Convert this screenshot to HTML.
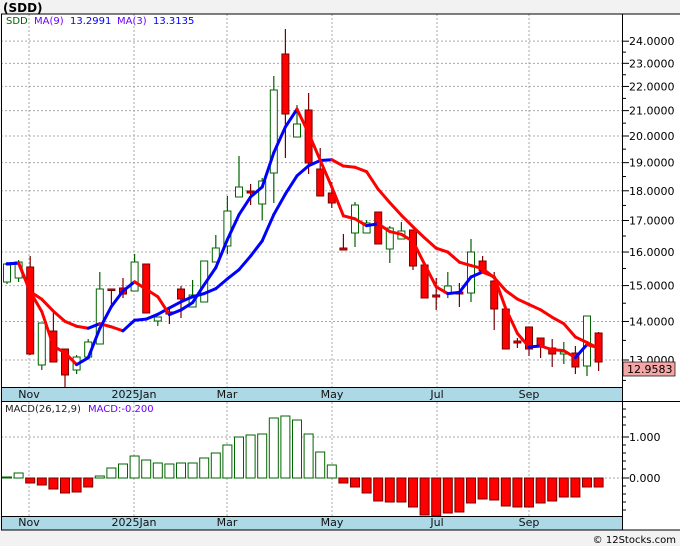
<!DOCTYPE html>
<html><head><meta charset="utf-8"><style>
body{margin:0;background:#f2f2f2;}
svg{display:block;font-family:"DejaVu Sans","Liberation Sans",sans-serif;}
</style></head><body>
<svg id="s" width="680" height="546" xmlns="http://www.w3.org/2000/svg">
<rect x="0" y="0" width="680" height="546" fill="#f2f2f2"/>
<text x="3" y="12" font-size="12" font-weight="bold" fill="#000">(SDD)</text>
<rect x="1" y="14" width="622" height="373" fill="#fff"/>
<rect x="1" y="402" width="622" height="114" fill="#fff"/>
<rect x="623" y="14" width="57" height="516" fill="#fff"/>
<rect x="1" y="387" width="622" height="15" fill="#add8e6"/>
<rect x="1" y="516" width="622" height="14" fill="#add8e6"/>
<g id="g"></g>
<line x1="1" y1="14" x2="680" y2="14" stroke="#000"/>
<line x1="1.5" y1="14" x2="1.5" y2="530" stroke="#000"/>
<line x1="622.5" y1="14" x2="622.5" y2="530" stroke="#000"/>
<line x1="1" y1="387.5" x2="622" y2="387.5" stroke="#000"/>
<line x1="1" y1="401.5" x2="680" y2="401.5" stroke="#000"/>
<line x1="1" y1="516.5" x2="622" y2="516.5" stroke="#000"/>
<line x1="1" y1="530" x2="680" y2="530" stroke="#000"/>
<text x="6" y="24" font-size="10" fill="#006400">SDD</text>
<text x="34" y="24" font-size="10" fill="#6a00ff">MA(9)</text>
<text x="70" y="24" font-size="10" fill="#0000ff">13.2991</text>
<text x="117" y="24" font-size="10" fill="#6a00ff">MA(3)</text>
<text x="153" y="24" font-size="10" fill="#0000ff">13.3135</text>
<text x="5" y="412" font-size="10" fill="#222">MACD(26,12,9)</text>
<text x="88" y="412" font-size="10" fill="#6a00ff">MACD:-0.200</text>
<rect x="623" y="362" width="52" height="14" fill="#f4a6a6" stroke="#000" stroke-width="0.7"/>
<text x="627" y="373" font-size="11" fill="#000">12.9583</text>
<text x="676" y="543" font-size="10" fill="#000" text-anchor="end">© 12Stocks.com</text>
</svg>
<script>
var g=document.getElementById('g'),h='';
function Y(p){return 360-520*Math.log(p/13);}
function P(y){return 13*Math.exp((360-y)/520);}
// grid
[29,134,227,332,437,529].forEach(function(x){h+='<line x1="'+x+'" y1="14" x2="'+x+'" y2="387" stroke="#aaa" stroke-dasharray="2,2"/>';h+='<line x1="'+x+'" y1="402" x2="'+x+'" y2="516" stroke="#aaa" stroke-dasharray="2,2"/>';});
for(var p=13;p<=24;p++){var y=Y(p);h+='<line x1="1" y1="'+y+'" x2="622" y2="'+y+'" stroke="#aaa" stroke-dasharray="2,2"/>';h+='<line x1="622" y1="'+y+'" x2="629" y2="'+y+'" stroke="#000"/>';h+='<text x="629" y="'+(y+4)+'" font-size="11">'+p+'.0000</text>';var y2=Y(p+0.5);if(p<24)h+='<line x1="622" y1="'+y2+'" x2="626" y2="'+y2+'" stroke="#000"/>';}
h+='<line x1="622" y1="'+Y(12.5)+'" x2="626" y2="'+Y(12.5)+'" stroke="#000"/>';
[437,478].forEach(function(y){h+='<line x1="1" y1="'+y+'" x2="622" y2="'+y+'" stroke="#aaa" stroke-dasharray="2,2"/>';h+='<line x1="622" y1="'+y+'" x2="629" y2="'+y+'" stroke="#000"/>';});
for(var k=-1;k<=2;k++){}
[409,417,425,445,453,461,469,486,494,502,510].forEach(function(y){h+='<line x1="622" y1="'+y+'" x2="626" y2="'+y+'" stroke="#000"/>';});
h+='<text x="629" y="441" font-size="11">1.000</text><text x="629" y="482" font-size="11">0.000</text>';
// date labels
[['Nov',29],['2025Jan',134],['Mar',227],['May',332],['Jul',437],['Sep',529]].forEach(function(d){h+='<text x="'+d[1]+'" y="398" font-size="11" text-anchor="middle" fill="#111">'+d[0]+'</text>';h+='<text x="'+d[1]+'" y="526" font-size="11" text-anchor="middle" fill="#111">'+d[0]+'</text>';});
// candles: [top,bottom,wickTop,wickBot,green?]
var C=[[264,282,262,284,1],[262,278,260,282,1],[267,354,256,355,0],[323,365,323,370,1],[331,362,313,362,0],[349,375,349,387,0],[357,370,355,374,1],[342,357,339,357,1],[289,344,272,344,1],[289,290,289,305,0],[288,294,278,298,0],[262,291,254,291,1],[264,313,264,313,0],[317,321,317,326,1],[312,314,307,324,0],[289,299,286,318,0],[295,307,280,307,1],[261,302,261,302,1],[248,262,235,262,1],[211,246,196,254,1],[187,197,156,197,1],[191,193,184,205,0],[181,204,178,220,1],[90,173,76,203,1],[54,114,29,158,0],[124,137,105,137,1],[110,163,93,174,0],[169,196,148,196,0],[193,203,182,208,0],[248,250,234,250,0],[205,233,202,247,1],[223,233,220,233,1],[212,244,212,244,0],[228,249,226,263,1],[231,239,222,239,1],[230,266,230,270,0],[265,298,265,298,0],[295,297,278,310,0],[286,293,272,298,1],[292,294,283,307,0],[252,293,239,302,1],[261,271,256,271,0],[281,309,272,330,0],[309,349,309,349,0],[341,343,338,348,0],[327,349,327,356,0],[338,346,338,358,0],[348,354,339,367,0],[352,354,342,364,1],[353,367,346,374,0],[316,366,316,376,1],[333,362,332,371,0]];
var closes=[];
C.forEach(function(c,i){var x=7+11.6*i;var col=c[4]?'#006400':'#7a0000';
h+='<line x1="'+x+'" y1="'+c[2]+'" x2="'+x+'" y2="'+c[3]+'" stroke="'+col+'" stroke-width="1.2"/>';
var ht=Math.max(c[1]-c[0],1.5);
h+='<rect x="'+(x-3.5)+'" y="'+c[0]+'" width="7" height="'+ht+'" fill="'+(c[4]?'#fff':'#ff0000')+'" stroke="'+col+'" stroke-width="1"/>';
closes.push(P(c[4]?c[0]:c[1]));});
function ma(n){var r=[];for(var i=0;i<closes.length;i++){var s=0,k=0;for(var j=Math.max(0,i-n+1);j<=i;j++){s+=closes[j];k++;}r.push(s/k);}return r;}
function line(m){var o='';for(var i=1;i<m.length;i++){var x0=7+11.6*(i-1),x1=7+11.6*i;var col=m[i]>m[i-1]?'#0000ff':'#ff0000';o+='<line x1="'+x0+'" y1="'+Y(m[i-1])+'" x2="'+x1+'" y2="'+Y(m[i])+'" stroke="'+col+'" stroke-width="3" stroke-linecap="round"/>';}return o;}
h+=line(ma(9))+line(ma(3));
// MACD
var M=[477,473,483,485,489,493,492,487,476,468,464,456,460,463,464,463,463,458,453,445,437,435,434,418,416,420,434,452,465,483,487,493,501,502,502,507,515,516,513,512,503,499,500,506,507,507,503,501,497,497,487,487];
M.forEach(function(v,i){var x=7+11.6*i;var up=v<478;var t=up?v:478,b=up?478:v;var hh=Math.max(b-t,1);
h+='<rect x="'+(x-4.5)+'" y="'+t+'" width="9" height="'+hh+'" fill="'+(up?'#fff':'#ff0000')+'" stroke="'+(up?'#006400':'#7a0000')+'" stroke-width="1"/>';});
g.innerHTML=h;
</script>
</body></html>
